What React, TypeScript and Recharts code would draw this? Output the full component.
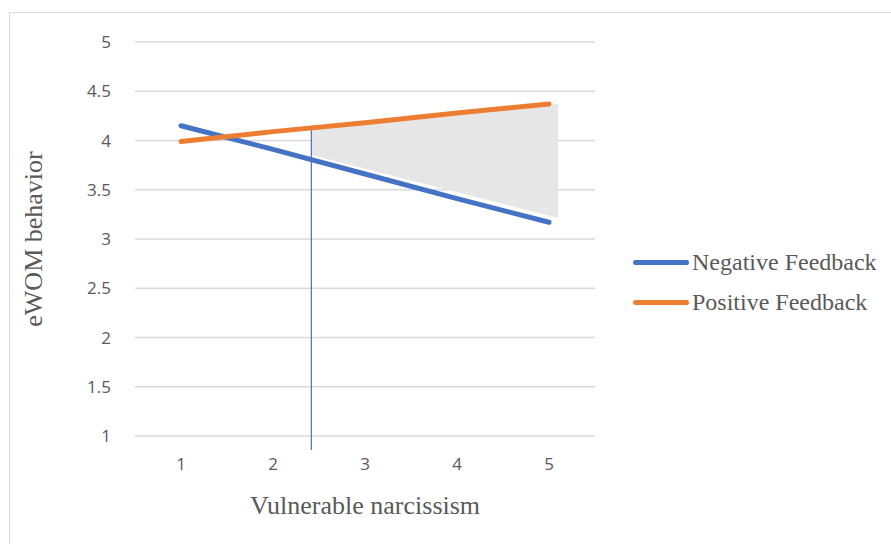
import React from 'react';
import {
  ComposedChart, Line, Area, XAxis, YAxis, CartesianGrid, ReferenceLine,
} from 'recharts';

const narcissism = [1, 2, 3, 4, 5];
const negativeFeedback = [4.15, 3.91, 3.66, 3.41, 3.17];
const positiveFeedback = [3.99, 4.09, 4.18, 4.28, 4.37];
const yTicks = [1, 1.5, 2, 2.5, 3, 3.5, 4, 4.5, 5];

// hand-drawn gap area between the two slopes, from the marker line to the right end
const gapX = [2.417, 5.098];
const gapLow = [3.853, 3.213];
const gapHigh = [4.107, 4.37];

const negData = narcissism.map((x, i) => ({ x, value: negativeFeedback[i] }));
const posData = narcissism.map((x, i) => ({ x, value: positiveFeedback[i] }));
const gapData = gapX.map((x, i) => ({ x, band: [gapLow[i], gapHigh[i]] }));

const series = [
  { name: 'Negative Feedback', color: '#4472C4' },
  { name: 'Positive Feedback', color: '#ED7D31' },
];

const serif = '"Liberation Serif", "Times New Roman", serif';
const sans = '"Open Sans", "Liberation Sans", sans-serif';

function LegendBox() {
  return (
    <div style={{ position: 'absolute', left: 633, top: 242, fontFamily: serif, fontSize: 24, color: '#595959' }}>
      {series.map(s => (
        <div key={s.name} style={{ display: 'flex', alignItems: 'center', height: 40, whiteSpace: 'nowrap' }}>
          <div style={{ width: 56, height: 5, borderRadius: 3, background: s.color, marginRight: 3 }} />
          {s.name}
        </div>
      ))}
    </div>
  );
}

export default function App() {
  return (
    <div style={{ position: 'absolute', left: 0, top: 0, width: 891, height: 544, background: '#fff', overflow: 'hidden' }}>
      <div style={{ position: 'absolute', left: 9, top: 12, width: 890, height: 560, border: '1px solid #d9d9d9', boxSizing: 'border-box' }} />
      <div style={{ position: 'absolute', left: 0, top: 0 }}>
        <ComposedChart width={891} height={544} margin={{ top: 42, right: 296, bottom: 78, left: 75 }}>
          <CartesianGrid vertical={false} stroke="#d9d9d9" strokeWidth={1.5} />
          <XAxis
            type="number"
            dataKey="x"
            domain={[0.5, 5.5]}
            ticks={narcissism}
            axisLine={false}
            tickLine={false}
            tickSize={0}
            tickMargin={22}
            tick={{ fill: '#595959', fontSize: 17, fontFamily: sans }}
            label={{ value: 'Vulnerable narcissism', position: 'insideBottom', offset: -48, fill: '#595959', fontSize: 26, fontFamily: serif }}
            allowDuplicatedCategory={false}
          />
          <YAxis
            width={60}
            domain={[1, 5]}
            ticks={yTicks}
            axisLine={false}
            tickLine={false}
            tickSize={0}
            tickMargin={24}
            tick={{ fill: '#595959', fontSize: 17, fontFamily: sans }}
            label={{ value: 'eWOM behavior', angle: -90, position: 'center', dx: -72, fill: '#595959', fontSize: 26, fontFamily: serif }}
          />
          <Area
            data={gapData}
            dataKey="band"
            type="linear"
            fill="#e6e6e6"
            fillOpacity={1}
            stroke="none"
            isAnimationActive={false}
            legendType="none"
          />
          <ReferenceLine
            segment={[{ x: gapX[0], y: gapHigh[0] }, { x: gapX[0], y: 0.857 }]}
            stroke="#4472C4"
            strokeWidth={1.2}
            ifOverflow="visible"
          />
          <Line
            data={negData}
            dataKey="value"
            name={series[0].name}
            type="linear"
            stroke={series[0].color}
            strokeWidth={5}
            strokeLinecap="round"
            dot={false}
            isAnimationActive={false}
          />
          <Line
            data={posData}
            dataKey="value"
            name={series[1].name}
            type="linear"
            stroke={series[1].color}
            strokeWidth={5}
            strokeLinecap="round"
            dot={false}
            isAnimationActive={false}
          />
        </ComposedChart>
      </div>
      <LegendBox />
    </div>
  );
}
